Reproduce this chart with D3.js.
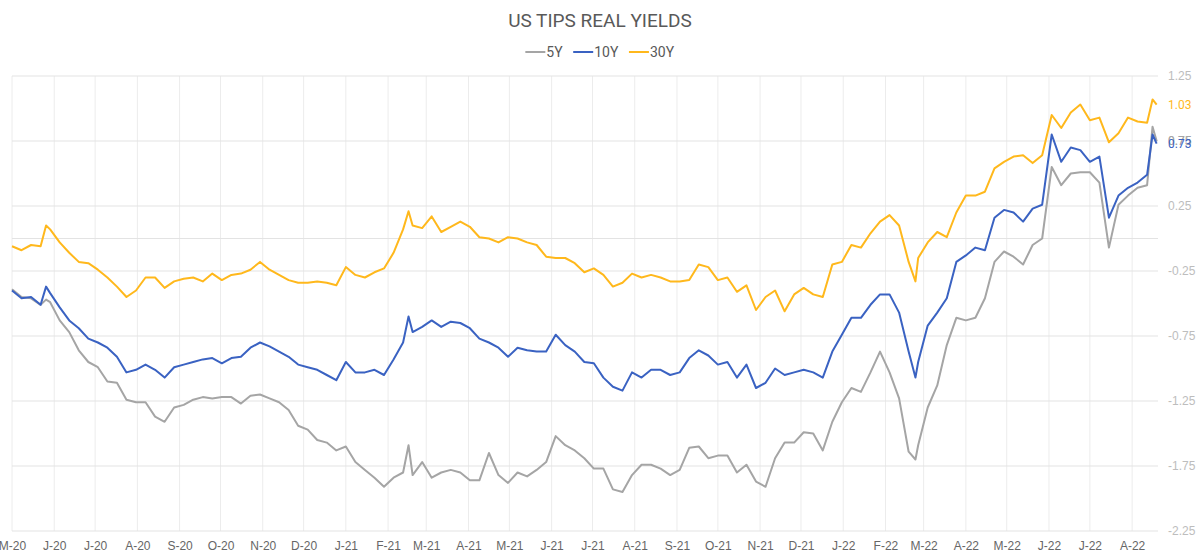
<!DOCTYPE html>
<html>
<head>
<meta charset="utf-8">
<script src="https://cdn.jsdelivr.net/npm/d3@7"></script>
<style>
  html, body { margin: 0; padding: 0; background: #fff; }
  svg { display: block; font-family: Roboto, "Noto Sans", sans-serif; }
</style>
</head>
<body>
<svg id="chart" width="1200" height="558"></svg>
<script>
// observations, one row per month
const dates = [
  '2020-05-01','2020-05-08','2020-05-15','2020-05-22','2020-05-26','2020-05-29',
  '2020-06-05','2020-06-12','2020-06-19','2020-06-26',
  '2020-07-03','2020-07-10','2020-07-17','2020-07-24','2020-07-31',
  '2020-08-07','2020-08-14','2020-08-21','2020-08-28',
  '2020-09-04','2020-09-11','2020-09-18','2020-09-25',
  '2020-10-02','2020-10-09','2020-10-16','2020-10-23','2020-10-30',
  '2020-11-06','2020-11-13','2020-11-20','2020-11-27',
  '2020-12-04','2020-12-11','2020-12-18','2020-12-25',
  '2021-01-01','2021-01-08','2021-01-15','2021-01-22','2021-01-29',
  '2021-02-05','2021-02-12','2021-02-16','2021-02-19','2021-02-26',
  '2021-03-05','2021-03-12','2021-03-19','2021-03-26',
  '2021-04-02','2021-04-09','2021-04-16','2021-04-23','2021-04-30',
  '2021-05-07','2021-05-14','2021-05-21','2021-05-28',
  '2021-06-04','2021-06-11','2021-06-18','2021-06-25',
  '2021-07-02','2021-07-09','2021-07-16','2021-07-23','2021-07-30',
  '2021-08-06','2021-08-13','2021-08-20','2021-08-27',
  '2021-09-03','2021-09-10','2021-09-17','2021-09-24',
  '2021-10-01','2021-10-08','2021-10-15','2021-10-22','2021-10-29',
  '2021-11-05','2021-11-12','2021-11-19','2021-11-26',
  '2021-12-03','2021-12-10','2021-12-17','2021-12-24','2021-12-31',
  '2022-01-07','2022-01-14','2022-01-21','2022-01-28',
  '2022-02-04','2022-02-11','2022-02-18','2022-02-23','2022-02-25',
  '2022-03-04','2022-03-11','2022-03-18','2022-03-25',
  '2022-04-01','2022-04-08','2022-04-15','2022-04-22','2022-04-29',
  '2022-05-06','2022-05-13','2022-05-20','2022-05-27',
  '2022-06-03','2022-06-10','2022-06-17','2022-06-24',
  '2022-07-01','2022-07-08','2022-07-15','2022-07-22','2022-07-29',
  '2022-08-05','2022-08-12','2022-08-16','2022-08-19'
];

const y5 = [
  -0.39,-0.45,-0.46,-0.51,-0.47,-0.49,
  -0.63,-0.72,-0.86,-0.95,
  -0.99,-1.10,-1.11,-1.24,-1.26,
  -1.26,-1.37,-1.41,-1.30,
  -1.28,-1.24,-1.22,-1.23,
  -1.22,-1.22,-1.27,-1.21,-1.20,
  -1.23,-1.26,-1.32,-1.44,
  -1.47,-1.55,-1.57,-1.63,
  -1.60,-1.72,-1.78,-1.84,-1.91,
  -1.84,-1.80,-1.59,-1.82,-1.72,
  -1.84,-1.80,-1.78,-1.80,
  -1.86,-1.86,-1.65,-1.82,-1.88,
  -1.80,-1.83,-1.78,-1.72,
  -1.52,-1.59,-1.63,-1.69,
  -1.77,-1.77,-1.93,-1.95,-1.82,
  -1.74,-1.74,-1.77,-1.82,
  -1.78,-1.61,-1.60,-1.69,
  -1.67,-1.67,-1.80,-1.74,-1.87,
  -1.91,-1.69,-1.57,-1.57,
  -1.49,-1.50,-1.63,-1.41,-1.26,
  -1.15,-1.18,-1.03,-0.87,
  -1.03,-1.23,-1.64,-1.70,-1.59,
  -1.30,-1.13,-0.82,-0.61,
  -0.63,-0.61,-0.46,-0.18,-0.10,
  -0.14,-0.20,-0.05,0.00,
  0.55,0.41,0.50,0.51,
  0.51,0.43,-0.07,0.26,0.33,
  0.39,0.41,0.86,0.75
];

const y10 = [
  -0.40,-0.46,-0.45,-0.51,-0.37,-0.42,
  -0.53,-0.63,-0.69,-0.77,
  -0.80,-0.84,-0.91,-1.03,-1.01,
  -0.97,-1.01,-1.07,-0.99,
  -0.97,-0.95,-0.93,-0.92,
  -0.96,-0.92,-0.91,-0.84,-0.80,
  -0.83,-0.87,-0.91,-0.97,
  -0.99,-1.01,-1.05,-1.09,
  -0.95,-1.03,-1.03,-1.01,-1.05,
  -0.93,-0.80,-0.60,-0.72,-0.68,
  -0.63,-0.68,-0.64,-0.65,
  -0.69,-0.77,-0.80,-0.84,-0.91,
  -0.84,-0.86,-0.87,-0.87,
  -0.74,-0.82,-0.87,-0.95,
  -0.96,-1.07,-1.14,-1.17,-1.03,
  -1.07,-1.01,-1.01,-1.05,
  -1.03,-0.92,-0.86,-0.90,
  -0.97,-0.95,-1.07,-0.97,-1.15,
  -1.11,-1.00,-1.05,-1.03,
  -1.01,-1.03,-1.07,-0.87,-0.74,
  -0.61,-0.61,-0.51,-0.43,
  -0.43,-0.57,-0.87,-1.07,-0.95,
  -0.67,-0.57,-0.46,-0.18,
  -0.13,-0.07,-0.09,0.16,0.22,
  0.20,0.13,0.23,0.26,
  0.80,0.59,0.70,0.68,
  0.59,0.63,0.16,0.33,0.39,
  0.43,0.49,0.80,0.73
];

const y30 = [
  -0.06,-0.09,-0.05,-0.06,0.10,0.07,
  -0.03,-0.11,-0.18,-0.19,
  -0.24,-0.30,-0.37,-0.45,-0.40,
  -0.30,-0.30,-0.38,-0.33,
  -0.31,-0.30,-0.33,-0.27,
  -0.32,-0.28,-0.27,-0.24,-0.18,
  -0.24,-0.28,-0.32,-0.34,
  -0.34,-0.33,-0.34,-0.36,
  -0.22,-0.28,-0.30,-0.26,-0.23,
  -0.11,0.07,0.21,0.10,0.08,
  0.17,0.05,0.09,0.13,
  0.09,0.01,0.00,-0.03,0.01,
  0.00,-0.03,-0.05,-0.14,
  -0.15,-0.15,-0.19,-0.26,
  -0.23,-0.28,-0.37,-0.34,-0.27,
  -0.30,-0.28,-0.30,-0.33,
  -0.33,-0.32,-0.20,-0.22,
  -0.32,-0.30,-0.41,-0.36,-0.55,
  -0.45,-0.40,-0.56,-0.43,
  -0.38,-0.43,-0.45,-0.20,-0.18,
  -0.05,-0.07,0.04,0.13,
  0.18,0.10,-0.18,-0.33,-0.15,
  -0.03,0.05,0.01,0.20,
  0.33,0.33,0.36,0.54,0.59,
  0.63,0.64,0.58,0.64,
  0.95,0.85,0.97,1.03,
  0.91,0.93,0.74,0.81,0.93,
  0.90,0.89,1.07,1.03
];

const seriesNames = ['5Y', '10Y', '30Y'];
const seriesColors = ['#a5a5a5', '#3a62c2', '#ffb81c'];
const yTicks = [1.25, 0.75, 0.25, -0.25, -0.75, -1.25, -1.75, -2.25];
const title = 'US TIPS REAL YIELDS';

const parse = d3.utcParse('%Y-%m-%d');
const series = [y5, y10, y30].map((vals, i) => ({
  name: seriesNames[i],
  color: seriesColors[i],
  values: vals.map((v, j) => ({ date: parse(dates[j]), value: v }))
}));

const svg = d3.select('#chart');
const plotLeft = 12, plotRight = 1158, plotTop = 76, plotBottom = 531;

const x = d3.scaleUtc()
  .domain([new Date(Date.UTC(2020, 4, 1)), new Date(Date.UTC(2022, 7, 20))])
  .range([plotLeft, plotRight]);
const y = d3.scaleLinear().domain([-2.25, 1.25]).range([plotBottom, plotTop]);

const months = d3.utcMonth.range(new Date(Date.UTC(2020, 4, 1)), new Date(Date.UTC(2022, 7, 2)));

// grid
const grid = svg.append('g');
grid.selectAll('.vgrid').data(months).join('line')
  .attr('x1', d => x(d)).attr('x2', d => x(d))
  .attr('y1', plotTop).attr('y2', plotBottom)
  .attr('stroke', '#ececec').attr('stroke-width', 1);
grid.selectAll('.hgrid').data(yTicks.concat([0])).join('line')
  .attr('x1', plotLeft).attr('x2', plotRight)
  .attr('y1', d => y(d)).attr('y2', d => y(d))
  .attr('stroke', '#e3e3e3').attr('stroke-width', 1);

// x axis
const monthFmt = d3.utcFormat('%b');
const yearFmt = d3.utcFormat('%y');
const xAxis = d3.axisBottom(x)
  .tickValues(months)
  .tickSize(0)
  .tickPadding(10)
  .tickFormat(d => monthFmt(d)[0] + '-' + yearFmt(d));
const xAxisG = svg.append('g').attr('transform', `translate(0,${plotBottom})`).call(xAxis);
xAxisG.select('.domain').remove();
xAxisG.selectAll('text').attr('fill', '#666').style('font-size', '12px');

// y axis on the right
const yAxis = d3.axisRight(y)
  .tickValues(yTicks)
  .tickSize(0)
  .tickPadding(10)
  .tickFormat(d => d.toFixed(2));
const yAxisG = svg.append('g').attr('transform', `translate(${plotRight},0)`).call(yAxis);
yAxisG.select('.domain').remove();
yAxisG.selectAll('text').attr('fill', '#bdbdbd').style('font-size', '12px');

// lines
const line = d3.line().x(d => x(d.date)).y(d => y(d.value));
svg.append('g').selectAll('path').data(series).join('path')
  .attr('d', d => line(d.values))
  .attr('fill', 'none')
  .attr('stroke', d => d.color)
  .attr('stroke-width', 2)
  .attr('stroke-linejoin', 'round');

// last value labels (5Y and 10Y overlap, as in the source chart)
svg.append('g').selectAll('text').data(series).join('text')
  .attr('x', plotRight + 10)
  .attr('y', d => y(d.values[d.values.length - 1].value))
  .attr('dy', '0.35em')
  .attr('fill', d => d.color)
  .style('font-size', '12px')
  .text(d => d.values[d.values.length - 1].value.toFixed(2));

// title
svg.append('text')
  .attr('x', 600).attr('y', 27)
  .attr('text-anchor', 'middle')
  .attr('fill', '#595959')
  .style('font-size', '19px')
  .text(title);

// legend
const legend = svg.append('g');
const items = legend.selectAll('g').data(series).join('g');
items.append('line')
  .attr('x1', 0).attr('x2', 20).attr('y1', 0).attr('y2', 0)
  .attr('stroke', d => d.color).attr('stroke-width', 2);
items.append('text')
  .attr('x', 21).attr('dy', '0.35em')
  .attr('fill', '#595959')
  .style('font-size', '14px')
  .text(d => d.name);
let cursor = 0;
items.each(function () {
  const w = this.getBBox().width;
  d3.select(this).attr('transform', `translate(${cursor},0)`);
  cursor += w + 10;
});
legend.attr('transform', `translate(${600 - (cursor - 10) / 2},52)`);
</script>
</body>
</html>
